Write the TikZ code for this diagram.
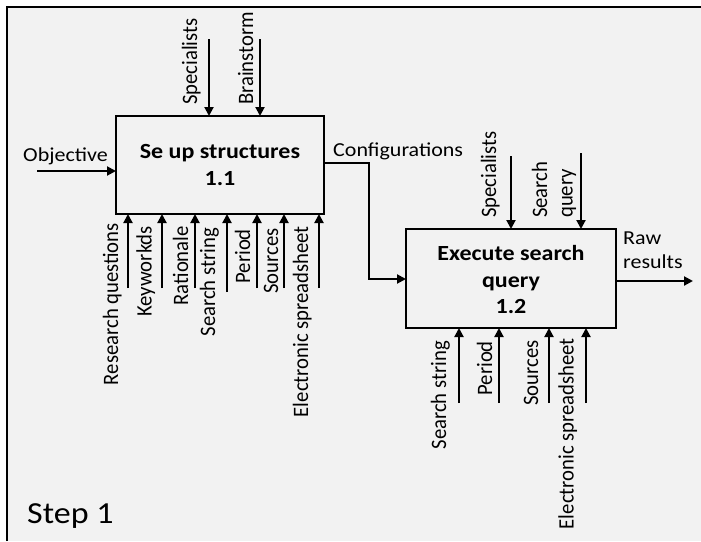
\documentclass[tikz,border=0pt]{standalone}
\usepackage{fontspec}
\setmainfont{Carlito}
\usetikzlibrary{arrows.meta}
\definecolor{panel}{HTML}{F2F2F2}
% text is set slightly condensed in height (horizontal labels) or in length (vertical labels)
\newcommand\hsq[1]{\scalebox{1}[0.9]{#1}}
\newcommand\vsq[1]{\scalebox{0.94}[1]{#1}}
\begin{document}
\begin{tikzpicture}[x=1pt,y=-1pt,
  lbl/.style={inner sep=0pt, font=\fontsize{22}{26}\selectfont},
  ttl/.style={inner sep=0pt, anchor=base, font=\fontsize{24}{28}\selectfont\bfseries},
  uplbl/.style={lbl, rotate=90, anchor=base west},
  dnlbl/.style={lbl, rotate=90, anchor=base east},
  flow/.style={line width=2pt, -{Triangle[length=9pt,width=9pt]}},
  act/.style={draw, line width=2pt, inner sep=0pt, outer sep=0pt}]
\useasboundingbox (0,0) rectangle (701,541);
% panel and its frame
\fill[white] (0,0) rectangle (701,541);
\fill[panel] (7,7) rectangle (701,541);
\draw[line width=2pt] (7,541) -- (7,7) -- (701,7);

% activity boxes
\node[act, minimum width=208pt, minimum height=98pt] (b1) at (220,165) {};
\node[act, minimum width=210pt, minimum height=99pt] (b2) at (511,278.5) {};
\node[ttl] (t1a) at (220,158) {\hsq{Se up structures}};
\node[ttl] (t1b) at (220,185) {\hsq{1.1}};
\node[ttl] (t2a) at (511,260) {\hsq{Execute search}};
\node[ttl] (t2b) at (511,287) {\hsq{query}};
\node[ttl] (t2c) at (511,313) {\hsq{1.2}};

% input of 1.1
\coordinate (obj) at (37,171);
\draw[flow] (obj) -- (obj -| b1.west);
\node[lbl, anchor=base west] (lobj) at (23,161) {\hsq{Objective}};

% controls of 1.1
\coordinate (c1a) at (209,39);
\coordinate (c1b) at (260,39);
\draw[flow] (c1a) -- (c1a |- b1.north);
\draw[flow] (c1b) -- (c1b |- b1.north);
\node[uplbl] (lc1a) at (197,105) {\vsq{Specialists}};
\node[uplbl] (lc1b) at (253,105) {\vsq{Brainstorm}};

% mechanisms of 1.1
\foreach \x/\y/\n in {128/288/a,162/288/b,195/288/c,227/292/d,257/288/e,284/288/f,319/288/g}{
  \coordinate (m1\n) at (\x,\y);
  \draw[flow] (m1\n) -- (m1\n |- b1.south);
}
\node[dnlbl] (lm1a) at (118,223) {\vsq{Research questions}};
\node[dnlbl] (lm1b) at (151.5,226) {\vsq{Keyworkds}};
\node[dnlbl] (lm1c) at (188,226) {\vsq{Rationale}};
\node[dnlbl] (lm1d) at (215,228) {\vsq{Search string}};
\node[dnlbl] (lm1e) at (250,229) {\vsq{Period}};
\node[dnlbl] (lm1f) at (278,228) {\vsq{Sources}};
\node[dnlbl] (lm1g) at (308,226) {\vsq{Electronic spreadsheet}};

% output of 1.1 feeding 1.2
\coordinate (cfg) at (369,163);
\draw[flow] (b1.east |- cfg) -- (cfg) |- (b2.west |- 0,279);
\node[lbl, anchor=base west] (lcfg) at (333,156) {\hsq{Configurations}};

% controls of 1.2
\coordinate (c2a) at (511,156);
\coordinate (c2b) at (581,153);
\draw[flow] (c2a) -- (c2a |- b2.north);
\draw[flow] (c2b) -- (c2b |- b2.north);
\node[uplbl] (lc2a) at (496,218) {\vsq{Specialists}};
\node[uplbl] (lc2b) at (547,218) {\vsq{Search}};
\node[uplbl] (lc2c) at (572.5,218) {\vsq{query}};

% mechanisms of 1.2
\foreach \x/\n in {459/a,499/b,549/c,586/d}{
  \coordinate (m2\n) at (\x,403);
  \draw[flow] (m2\n) -- (m2\n |- b2.south);
}
\node[dnlbl] (lm2a) at (446,341) {\vsq{Search string}};
\node[dnlbl] (lm2b) at (492,341) {\vsq{Period}};
\node[dnlbl] (lm2c) at (538,340) {\vsq{Sources}};
\node[dnlbl] (lm2d) at (573.5,338) {\vsq{Electronic spreadsheet}};

% output of 1.2
\coordinate (raw) at (693,281);
\draw[flow] (b2.east |- raw) -- (raw);
\node[lbl, anchor=base west] (lraw1) at (623,244) {\hsq{Raw}};
\node[lbl, anchor=base west] (lraw2) at (623,268) {\hsq{results}};

% step caption
\node[inner sep=0pt, anchor=base west, font=\fontsize{34}{40}\selectfont] (step) at (27,523) {\hsq{Step 1}};
\end{tikzpicture}
\end{document}
